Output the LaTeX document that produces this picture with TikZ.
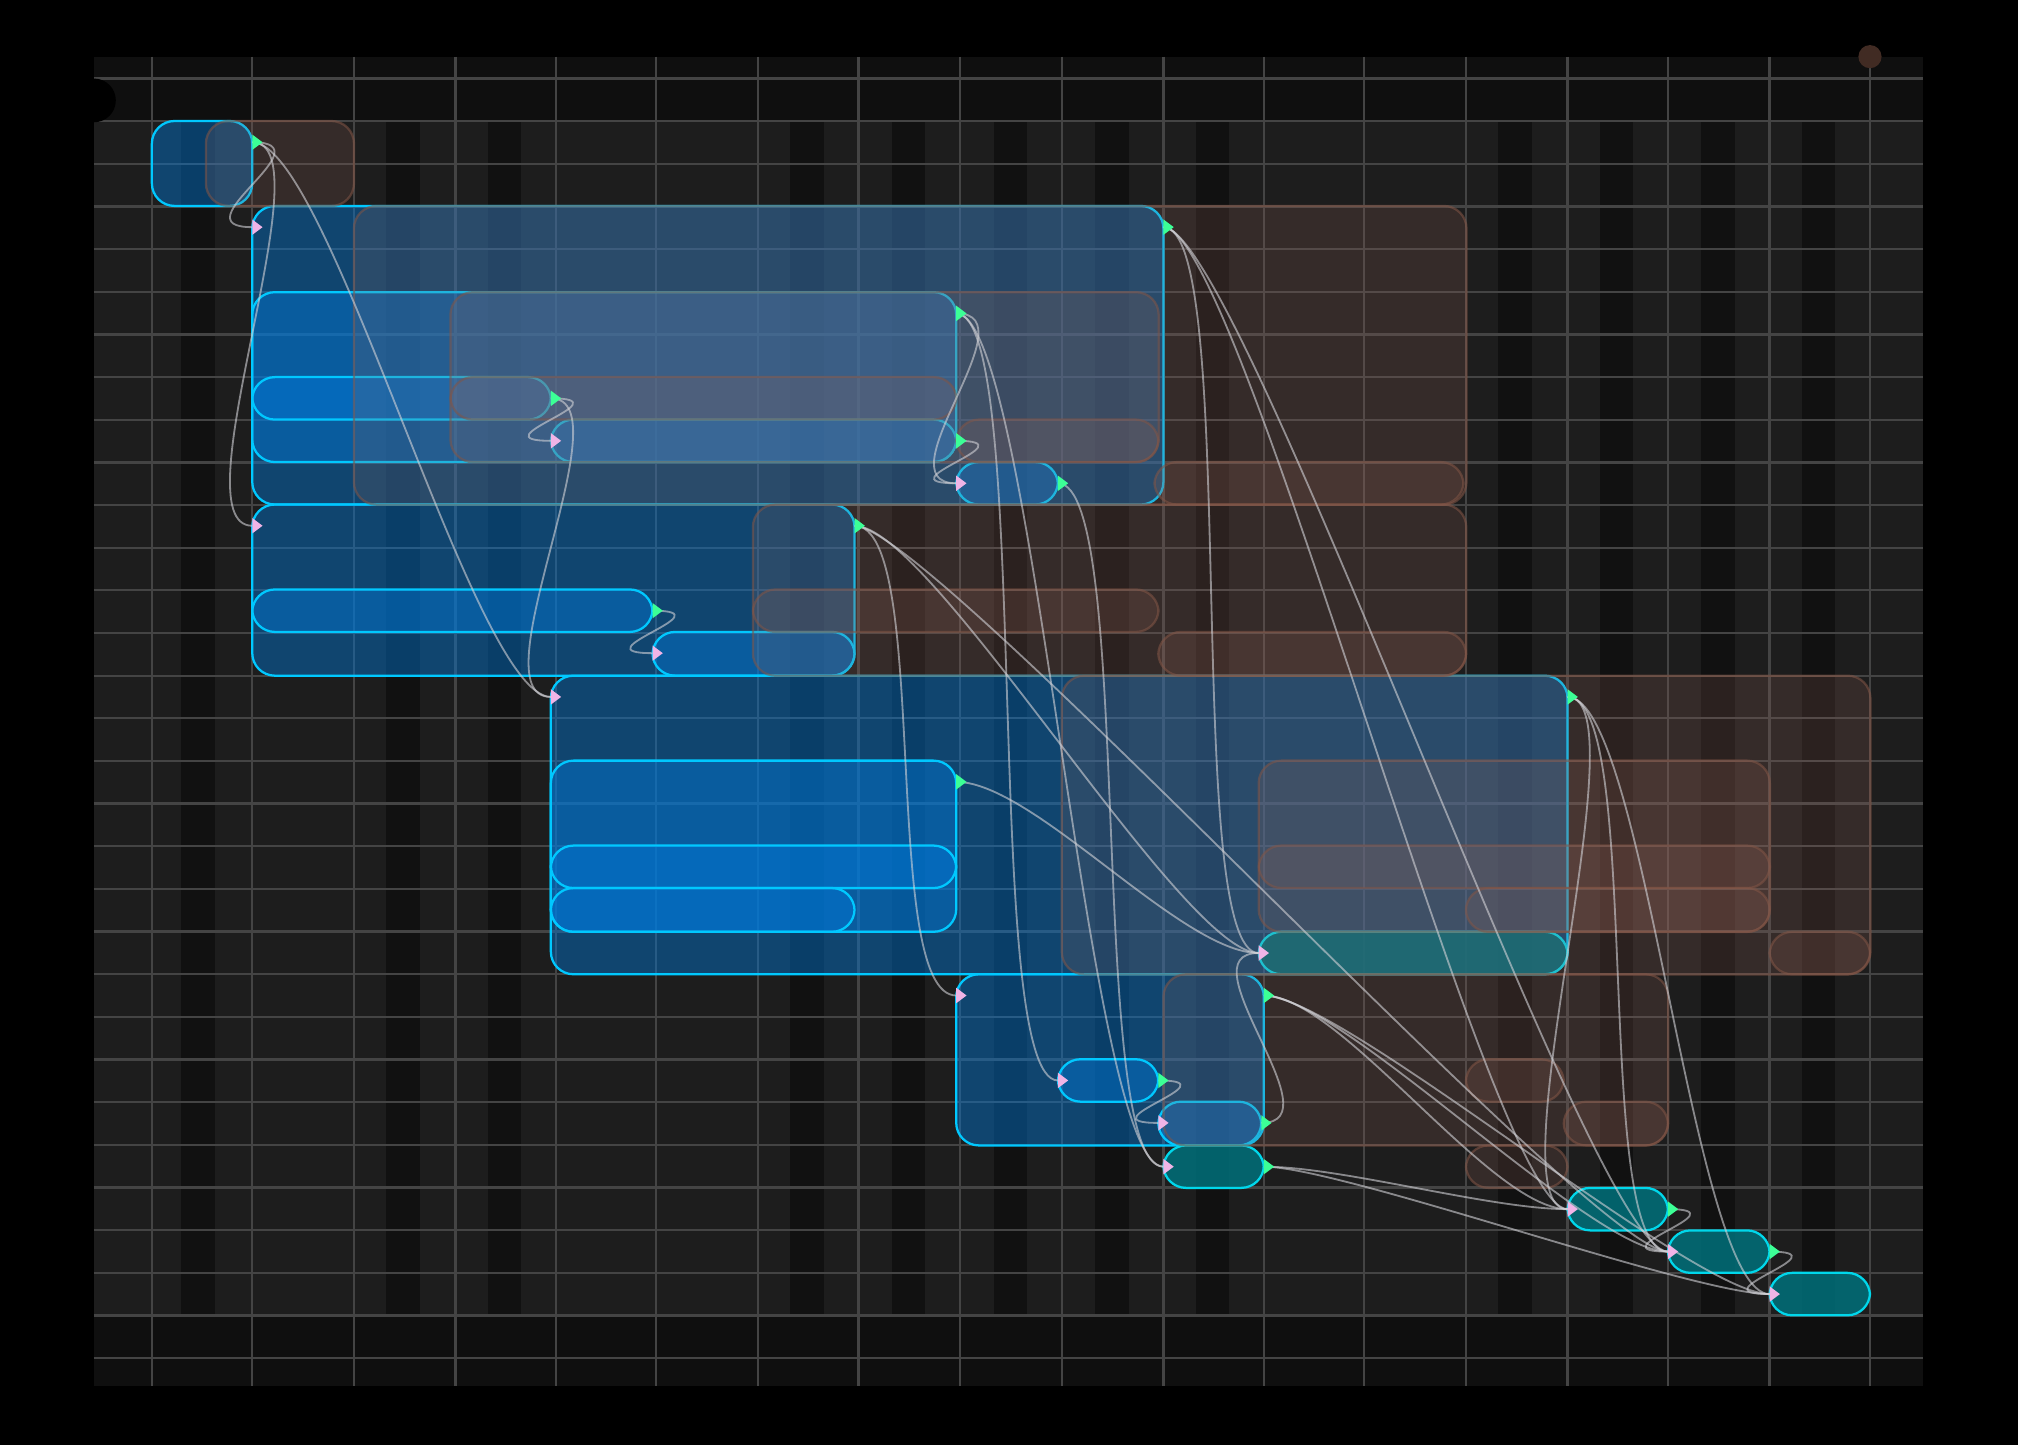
\documentclass[tikz,border=0pt]{standalone}
\usetikzlibrary{positioning}
\definecolor{panel}{RGB}{15,15,15}
\definecolor{lane}{RGB}{29,29,29}
\definecolor{stripe}{RGB}{17,17,17}
\definecolor{gridline}{RGB}{68,68,68}
\definecolor{taskfill}{RGB}{0,125,225}
\definecolor{taskedge}{RGB}{0,200,255}
\definecolor{doneedge}{RGB}{0,215,235}
\definecolor{donefill}{RGB}{0,112,122}
\definecolor{ghostfill}{RGB}{150,100,90}
\definecolor{ghostedge}{RGB}{130,85,70}
\definecolor{outport}{RGB}{60,255,150}
\definecolor{inport}{RGB}{240,180,230}
\definecolor{linkcol}{RGB}{210,210,215}
% box: name, x1, y1, x2, y2, style
\newcommand{\taskbox}[6]{%
  \node[#6,anchor=north west,minimum width=(#4-#2)*0.01cm,minimum height=(#5-#3)*0.01cm] (#1) at (#2,#3) {};
  \coordinate (#1o) at (#4,#3+16.5);
  \coordinate (#1i) at (#2,#3+16.5);}
\newcommand{\outport}[1]{\fill[outport] (#1o) ++(0,-6) -- ++(8,6) -- ++(-8,6) -- cycle;}
\newcommand{\inport}[1]{\fill[inport] (#1i) ++(0,-6) -- ++(8,6) -- ++(-8,6) -- cycle;}

\begin{document}
\begin{tikzpicture}[x=0.01cm,y=-0.01cm,
    task box/.style={rectangle,rounded corners=5pt,draw=taskedge,fill=taskfill,fill opacity=0.42,line width=0.5pt,inner sep=0pt,outer sep=0pt},
    done box/.style={task box,draw=doneedge,fill=donefill,fill opacity=0.85},
    ghost box/.style={rectangle,rounded corners=5pt,draw=ghostedge,draw opacity=0.55,fill=ghostfill,fill opacity=0.2,line width=0.5pt,inner sep=0pt,outer sep=0pt},
    link/.style={draw=linkcol,draw opacity=0.6,line width=0.4pt}]
  \fill[black] (0,0) rectangle (1568,1123);
  \useasboundingbox (0,0) rectangle (1568,1123);
  % background lanes
  \fill[panel] (73,44) rectangle (1494,1077);
  \fill[lane] (73,94) rectangle (1494,1022);
  \foreach \s in {141,300,379,614,693,772,851,929,1164,1243,1322,1400}
    \fill[stripe] (\s,94) rectangle (\s+26,1022);
  \foreach \gx in {118,196,275,354,432,510,589,667,746,825,904,982,1060,1139,1218,1296,1375,1453}
    \draw[gridline,line width=0.5pt] (\gx,44) -- (\gx,1077);
  \foreach \k in {0,...,30}
    \draw[gridline,line width=0.5pt] (73,61+\k*33.14) -- (1494,61+\k*33.14);
  \fill[black] (73,78) circle (17);
  \fill[ghostedge!50!black] (1453,44) circle (9);
  % tasks
  \taskbox{t1}{118}{94}{196}{160}{task box}
  \taskbox{t2}{196}{160}{904}{392}{task box}
  \taskbox{t3}{196}{227}{743}{359}{task box}
  \taskbox{t4}{196}{293}{428}{326}{task box}
  \taskbox{t5}{428}{326}{743}{359}{task box}
  \taskbox{t6}{743}{359}{822}{392}{task box}
  \taskbox{t7}{196}{392}{664}{525}{task box}
  \taskbox{t8}{196}{458}{507}{491}{task box}
  \taskbox{t9}{507}{491}{664}{525}{task box}
  \taskbox{t10}{428}{525}{1218}{757}{task box}
  \taskbox{t11}{428}{591}{743}{724}{task box}
  \taskbox{t12}{428}{657}{743}{690}{task box}
  \taskbox{t13}{428}{690}{664}{724}{task box}
  \taskbox{t14}{978}{724}{1218}{757}{done box}
  \taskbox{t15}{743}{757}{982}{890}{task box}
  \taskbox{t16}{822}{823}{900}{856}{task box}
  \taskbox{t17}{900}{856}{980}{890}{task box}
  \taskbox{t18}{904}{890}{982}{923}{done box}
  \taskbox{t19}{1218}{923}{1296}{956}{done box}
  \taskbox{t20}{1296}{956}{1375}{989}{done box}
  \taskbox{t21}{1375}{989}{1453}{1022}{done box}
  % baseline ghosts
  \node[ghost box,anchor=north west,minimum width=1.15cm,minimum height=0.66cm] (g1) at (160,94) {};
  \node[ghost box,anchor=north west,minimum width=8.64cm,minimum height=2.32cm] (g2) at (275,160) {};
  \node[ghost box,anchor=north west,minimum width=5.5cm,minimum height=1.32cm] (g3) at (350,227) {};
  \node[ghost box,anchor=north west,minimum width=3.93cm,minimum height=0.33cm] (g4) at (350,293) {};
  \node[ghost box,anchor=north west,minimum width=1.57cm,minimum height=0.33cm] (g5) at (743,326) {};
  \node[ghost box,anchor=north west,minimum width=2.4cm,minimum height=0.33cm] (g6) at (897,359) {};
  \node[ghost box,anchor=north west,minimum width=5.54cm,minimum height=1.33cm] (g7) at (585,392) {};
  \node[ghost box,anchor=north west,minimum width=3.15cm,minimum height=0.33cm] (g8) at (585,458) {};
  \node[ghost box,anchor=north west,minimum width=2.39cm,minimum height=0.34cm] (g9) at (900,491) {};
  \node[ghost box,anchor=north west,minimum width=6.28cm,minimum height=2.32cm] (g10) at (825,525) {};
  \node[ghost box,anchor=north west,minimum width=3.97cm,minimum height=1.33cm] (g11) at (978,591) {};
  \node[ghost box,anchor=north west,minimum width=3.97cm,minimum height=0.33cm] (g12) at (978,657) {};
  \node[ghost box,anchor=north west,minimum width=2.36cm,minimum height=0.34cm] (g13) at (1139,690) {};
  \node[ghost box,anchor=north west,minimum width=0.78cm,minimum height=0.33cm] (g14) at (1375,724) {};
  \node[ghost box,anchor=north west,minimum width=3.92cm,minimum height=1.33cm] (g15) at (904,757) {};
  \node[ghost box,anchor=north west,minimum width=0.76cm,minimum height=0.33cm] (g16) at (1139,823) {};
  \node[ghost box,anchor=north west,minimum width=0.81cm,minimum height=0.34cm] (g17) at (1215,856) {};
  \node[ghost box,anchor=north west,minimum width=0.79cm,minimum height=0.33cm] (g18) at (1139,890) {};
  % links
  \foreach \a/\b in {t1/t2,t1/t7,t1/t10,t2/t14,t2/t19,t2/t20,t3/t6,t3/t16,t4/t5,t4/t10,t5/t6,
      t6/t18,t7/t15,t7/t14,t7/t20,t8/t9,t10/t19,t10/t20,t10/t21,t11/t14,t15/t19,t15/t20,t15/t21,
      t16/t17,t17/t14,t18/t19,t18/t21,t19/t20,t20/t21,t3/t18}
    {\path[link] (\a o) .. controls +(60,0) and +(-60,0) .. (\b i);}
  \foreach \t in {t1,t2,t3,t4,t5,t6,t7,t8,t10,t11,t15,t16,t17,t18,t19,t20}
    {\outport{\t}}
  \foreach \t in {t2,t5,t6,t7,t9,t10,t14,t15,t16,t17,t18,t19,t20,t21}
    {\inport{\t}}
\end{tikzpicture}
\end{document}
